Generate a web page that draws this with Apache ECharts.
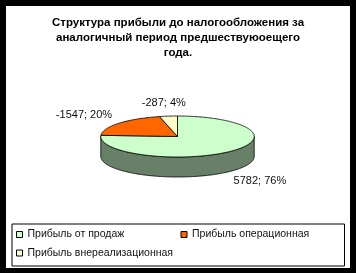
<!DOCTYPE html>
<html><head><meta charset="utf-8">
<script src="https://cdn.jsdelivr.net/npm/echarts@6/dist/echarts.min.js"></script>
<style>
html,body{margin:0;padding:0;background:#000;width:356px;height:273px;overflow:hidden}
#c{position:absolute;left:6px;top:6px;width:344px;height:262px;background:#fff}
</style></head><body><div id="c"></div>
<script>
const titleText = 'Структура прибыли до налогообложения за\nаналогичный период предшествуюоещего\nгода.';
const categories = ['Прибыль от продаж', 'Прибыль операционная', 'Прибыль внереализационная'];
const values = [5782, -1547, -287];
const colors = ['#CCFFCC', '#FF6600', '#FFFFCC'];
const sideColors = ['#678067', '#803300', '#808066'];

const FONT = '11px "Liberation Sans", Arial, sans-serif';
const total = values.reduce((s, v) => s + Math.abs(v), 0);
const measureCtx = document.createElement('canvas').getContext('2d');
measureCtx.font = FONT;

function makeRender(i) {
  return function (params, api) {
    const W = api.getWidth();
    const cx = W / 2 - 0.5, cy = 130.5, a = 76.7, b = 20.5, depth = 20;
    let start = 0;
    for (let j = 0; j < i; j++) start += Math.abs(values[j]) / total * 360;
    const v = api.value(0);
    const end = start + Math.abs(v) / total * 360;
    const pt = (th, dy) => {
      const r = th * Math.PI / 180;
      return [cx + a * Math.sin(r), cy - b * Math.cos(r) + dy];
    };
    const arc = (s, e, dy) => {
      const n = Math.max(2, Math.ceil((e - s) / 1));
      const out = [];
      for (let k = 0; k <= n; k++) out.push(pt(s + (e - s) * k / n, dy));
      return out;
    };
    const children = [];
    const s2 = Math.max(start, 90), e2 = Math.min(end, 270);
    if (e2 > s2) {
      const pts = arc(s2, e2, 0).concat(arc(s2, e2, depth).reverse());
      children.push({ type: 'polygon', z2: 1, shape: { points: pts },
        style: { fill: sideColors[i], stroke: '#000', lineWidth: 0.8 } });
    }
    children.push({ type: 'polygon', z2: 10, shape: { points: [[cx, cy]].concat(arc(start, end, 0)) },
      style: { fill: api.visual('color'), stroke: '#000', lineWidth: 0.8, lineJoin: 'round' } });
    const mid = (start + end) / 2 * Math.PI / 180;
    const sn = Math.sin(mid), cs = Math.cos(mid);
    const txt = v + '; ' + Math.round(Math.abs(v) / total * 100) + '%';
    const w = measureCtx.measureText(txt).width;
    let lx = cx + (a + 17) * sn + sn * w / 2;
    let ly = cy - (b + 7) * cs - cs * 6 + (cs < 0 ? depth : 0);
    children.push({ type: 'text', z2: 20, x: lx, y: ly,
      style: { text: txt, fill: '#111', font: FONT, align: 'center', verticalAlign: 'middle' } });
    return { type: 'group', children };
  };
}

const chart = echarts.init(document.getElementById('c'), null, { renderer: 'canvas' });
chart.setOption({
  animation: false,
  backgroundColor: '#fff',
  title: {
    text: titleText, left: 'center', top: 9, padding: 0,
    textStyle: { fontFamily: '"Liberation Sans", Arial, sans-serif', fontSize: 11.5, fontWeight: 'bold', color: '#000', lineHeight: 15, align: 'center' }
  },
  legend: {
    data: categories, left: 6, top: 218, width: 338, orient: 'horizontal',
    itemWidth: 6, itemHeight: 6, itemGap: 6.5, icon: 'rect',
    padding: [4.5, 6, 7, 4], borderColor: '#000', borderWidth: 1,
    itemStyle: { borderColor: '#000', borderWidth: 1 },
    textStyle: { fontSize: 10.5, fontFamily: '"Liberation Sans", Arial, sans-serif', color: '#111', width: 146.5, lineHeight: 12, padding: 0 },
    selectedMode: false
  },
  series: categories.map((name, i) => ({
    type: 'custom', name, coordinateSystem: 'none',
    itemStyle: { color: colors[i] },
    data: [[values[i]]],
    renderItem: makeRender(i)
  }))
});
</script></body></html>
